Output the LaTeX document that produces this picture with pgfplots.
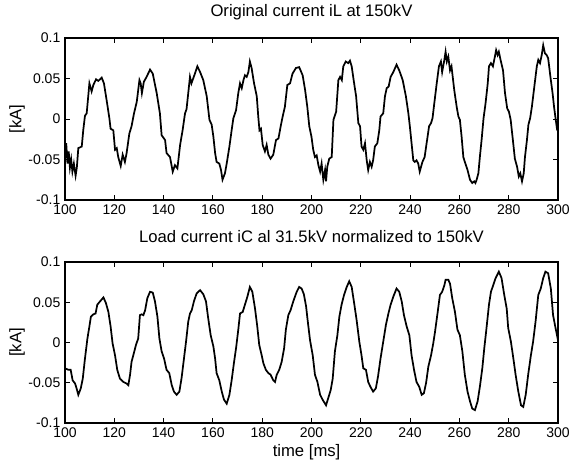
\documentclass[border=0pt]{standalone}
\usepackage{pgfplots}
\pgfplotsset{compat=1.18}
\usepackage{fontspec}
\setmainfont{Liberation Sans}

\pgfplotstableread{
t v
100 -0.045
100.5 -0.03
101 -0.055
101.5 -0.04
102 -0.06
102.5 -0.05
103 -0.065
103.6 -0.055
104.3 -0.07
104.8 -0.06
105.4 -0.036
106.8 -0.034
107.4 -0.014
108.1 0.004
108.8 0.007
109.9 0.044
110.8 0.034
111.5 0.042
112.6 0.049
113.5 0.047
114.9 0.051
115.8 0.044
116.9 0.023
118 0.001
118.5 -0.012
119.6 -0.014
120.3 -0.038
121 -0.036
121.6 -0.047
122.6 -0.058
123.4 -0.044
124.3 -0.053
125 -0.042
126.1 -0.018
127 -0.009
128 0.007
129.1 0.021
130.2 0.048
130.7 0.044
131.2 0.032
132 0.046
133.1 0.052
134.5 0.061
135.6 0.056
137.2 0.032
138.5 0.007
139.2 -0.02
140.6 -0.026
141.2 -0.042
142.6 -0.047
143.7 -0.065
144.6 -0.057
145.6 -0.061
146.7 -0.032
147.7 -0.014
148.7 0.007
149.3 0.012
150 0.032
150.7 0.052
151.3 0.044
152 0.05
152.7 0.056
153.7 0.065
154.8 0.058
156.1 0.048
157.5 0.028
158.6 -0.001
159.5 -0.007
160.2 -0.022
160.9 -0.042
161.5 -0.053
162.6 -0.055
163.3 -0.063
163.9 -0.075
164.9 -0.067
165.6 -0.055
166.7 -0.034
167.6 -0.014
168.3 0.001
169.4 0.011
170.3 0.032
171 0.044
171.7 0.038
172.4 0.048
173 0.054
173.7 0.052
174.4 0.058
175 0.071
175.7 0.063
176.7 0.044
177.8 0.028
178.4 0.003
178.9 -0.014
179.5 -0.012
180.2 -0.032
181.1 -0.04
181.8 -0.032
182.5 -0.044
183.4 -0.049
184.5 -0.044
185.6 -0.026
186.6 -0.024
187.5 -0.009
188.3 0.003
189.2 0.015
190.2 0.042
191.3 0.044
192.3 0.056
193.7 0.063
195 0.064
196.4 0.054
197.4 0.036
198.3 0.015
199.1 -0.009
200 -0.022
200.7 -0.038
201.4 -0.047
202.1 -0.045
202.8 -0.057
203.5 -0.065
204.1 -0.055
204.8 -0.075
205.5 -0.063
205.9 -0.077
206.4 -0.059
207.2 -0.049
208.2 -0.047
208.9 -0.001
210 0.009
210.9 0.048
211.6 0.052
212.3 0.048
212.9 0.065
213.9 0.071
214.9 0.069
215.6 0.072
216.3 0.065
217.2 0.046
218.1 0.028
219 -0.005
219.7 -0.009
220.3 -0.034
221 -0.038
221.7 -0.03
222.4 -0.051
223 -0.063
223.7 -0.053
224.4 -0.059
225 -0.051
225.7 -0.034
226.7 -0.03
227.5 -0.014
228 0.003
229.1 0.007
229.8 0.028
230.5 0.038
231.3 0.040
232.1 0.052
233.2 0.058
234.5 0.067
235.6 0.06
237 0.048
238.3 0.028
239.3 0.007
239.9 -0.009
240.6 -0.03
241.3 -0.051
241.9 -0.053
242.6 -0.051
243.3 -0.055
243.9 -0.065
245 -0.053
245.9 -0.047
246.7 -0.03
247.7 -0.009
248.5 -0.005
249.1 0.001
249.8 0.019
250.8 0.044
251.7 0.065
252.5 0.071
253 0.058
253.9 0.073
254.4 0.083
254.9 0.071
255.5 0.077
256.2 0.06
256.8 0.065
257.9 0.036
258.9 0.015
259.6 0.003
260.2 -0.001
260.9 -0.022
261.6 -0.047
262.2 -0.053
263.3 -0.063
264.3 -0.075
265.2 -0.079
266 -0.077
266.5 -0.079
267 -0.075
267.7 -0.067
268.3 -0.047
269 -0.026
269.8 0.001
270.6 0.019
271.5 0.044
272 0.065
272.8 0.069
273.6 0.065
274.4 0.077
274.9 0.085
275.5 0.079
276 0.083
276.7 0.073
277.7 0.06
278.5 0.032
279.4 0.013
280.1 0.009
280.8 -0.001
281.7 -0.026
282.5 -0.049
283.4 -0.059
284.1 -0.071
284.7 -0.067
285.4 -0.077
286.1 -0.067
286.6 -0.047
287.4 -0.026
288 -0.007
288.7 0.001
289.4 0.015
290.4 0.04
291.4 0.065
292 0.073
292.7 0.069
293.4 0.079
294 0.091
294.7 0.081
295.4 0.079
296 0.075
297.1 0.048
297.8 0.032
298.4 0.015
299 0.001
299.5 -0.01
300 -0.005
}\origcurrent

\pgfplotstableread{
t v
100 -0.032
101.4 -0.034
102.3 -0.034
103.1 -0.047
104.1 -0.051
104.7 -0.057
105.4 -0.065
106.4 -0.057
107.2 -0.045
108.1 -0.02
109.1 0.005
109.9 0.02
110.5 0.032
111.5 0.035
112.4 0.036
113.1 0.047
114.2 0.051
115.6 0.056
116.6 0.049
117.6 0.038
118.5 0.02
119.3 -0.001
120.3 -0.016
121.2 -0.034
122.3 -0.045
123.7 -0.049
125 -0.051
125.7 -0.053
126.4 -0.04
127 -0.024
127.7 -0.016
128.8 -0.003
129.7 0.005
130.4 0.034
131.1 0.035
131.8 0.034
132.5 0.04
133.4 0.055
134.5 0.063
135.6 0.062
136.5 0.051
137.5 0.032
138.3 0.005
139.2 -0.011
140.2 -0.02
141.2 -0.034
142.3 -0.038
143.3 -0.053
144.2 -0.061
145.3 -0.065
146.4 -0.061
147.3 -0.044
148.1 -0.024
149.1 0.001
150 0.026
150.7 0.036
151.4 0.04
152.3 0.051
153.4 0.061
154.8 0.065
156.1 0.06
157.2 0.051
158.1 0.03
159.1 0.009
160.2 -0.005
160.9 -0.02
161.5 -0.038
162.6 -0.047
163.6 -0.061
164.5 -0.071
165.6 -0.076
166.7 -0.065
167.6 -0.047
168.6 -0.024
169.4 -0.007
170.3 0.016
171 0.036
172.1 0.038
173 0.047
174 0.057
175 0.069
176 0.063
177.1 0.042
178 0.02
178.8 -0.003
179.8 -0.016
180.5 -0.026
181.5 -0.034
182.5 -0.038
183.4 -0.04
184.5 -0.047
185.2 -0.049
185.9 -0.04
186.9 -0.034
187.9 -0.024
188.9 -0.007
189.6 0.016
190.6 0.034
191.5 0.04
192.6 0.051
194 0.063
195 0.069
196 0.067
196.9 0.06
197.8 0.045
198.5 0.026
199.4 0.003
200.5 -0.016
201.4 -0.04
202.4 -0.049
203.5 -0.065
204.5 -0.071
205.9 -0.078
206.8 -0.069
207.8 -0.059
208.6 -0.045
209.5 -0.011
210.5 0.009
211.3 0.032
212.2 0.047
213.2 0.059
214.3 0.069
215.3 0.076
216.3 0.069
217.2 0.051
218.3 0.028
219.4 0.001
220.3 -0.016
221 -0.032
222.1 -0.034
223 -0.049
223.9 -0.055
225 -0.061
226.1 -0.057
227 -0.042
228 -0.02
229.1 0.001
230.2 0.022
231.2 0.036
232.1 0.047
233.2 0.057
234.5 0.067
235.6 0.063
236.6 0.051
237.5 0.034
238.6 0.02
239.7 0.009
240.6 -0.016
241.6 -0.034
242.6 -0.049
243.7 -0.055
244.7 -0.065
245.6 -0.063
246.5 -0.05
247.4 -0.03
248.5 -0.016
249.4 -0.001
250.1 0.013
251.2 0.038
252.1 0.059
253 0.063
253.9 0.071
254.4 0.078
255.5 0.078
256.2 0.073
257.1 0.055
258.2 0.038
259.2 0.016
260.2 0.009
261.2 -0.011
262.2 -0.04
263.3 -0.061
264.3 -0.073
265.2 -0.082
266.3 -0.084
267.4 -0.073
268.3 -0.055
269.3 -0.032
270.1 -0.007
271 0.018
272 0.047
272.8 0.063
273.7 0.071
274.7 0.08
276 0.088
277.1 0.08
278.2 0.059
279.2 0.042
279.8 0.018
280.9 0.001
281.9 -0.02
282.8 -0.04
283.9 -0.061
285 -0.078
285.9 -0.08
286.9 -0.065
287.9 -0.04
289 -0.016
289.9 0.001
290.9 0.026
292 0.059
293 0.067
294 0.08
294.9 0.088
296 0.086
297.1 0.067
298 0.034
299 0.018
300 0.003
}\loadcurrent

% one image pixel = 0.75pt
\pgfplotsset{
  scope/.style={
    scale only axis, width=369.75pt,
    xmin=100, xmax=300, ymin=-0.1, ymax=0.1,
    xtick={100,120,...,300},
    ytick={-0.1,-0.05,0,0.05,0.1},
    yticklabels={-0.1,-0.05,0,0.05,0.1},
    /pgf/number format/assume math mode=true,
    tick label style={font=\fontsize{10.5}{12}\selectfont},
    label style={font=\fontsize{12.5}{15}\selectfont},
    title style={font=\fontsize{12.5}{15}\selectfont},
    tick align=inside, major tick length=4pt,
    axis line style={line width=0.8pt},
    every tick/.style={black, line width=0.7pt},
    ylabel={[kA]},
    y label style={at={(axis description cs:-0.097,0.5)}, anchor=center},
  }
}

\begin{document}
\begin{tikzpicture}
\begin{axis}[scope, height=121.5pt, at={(48.75pt,-28.5pt)}, anchor=north west,
  title={Original current iL at 150kV},
  title style={at={(axis description cs:0.5,1.111)}, anchor=center}]
\addplot[black, line width=1.3pt] table[x=t,y=v] {\origcurrent};
\end{axis}
\begin{axis}[scope, height=120.75pt, at={(48.75pt,-196.5pt)}, anchor=north west,
  title={Load current iC al 31.5kV normalized to 150kV},
  title style={at={(axis description cs:0.5,1.106)}, anchor=center},
  xlabel={time [ms]},
  x label style={at={(axis description cs:0.49,-0.18)}, anchor=center}]
\addplot[black, line width=1.3pt] table[x=t,y=v] {\loadcurrent};
\end{axis}
\pgfresetboundingbox
\path[use as bounding box] (0,0) rectangle (426.75pt,-347.25pt);
\end{tikzpicture}
\end{document}
